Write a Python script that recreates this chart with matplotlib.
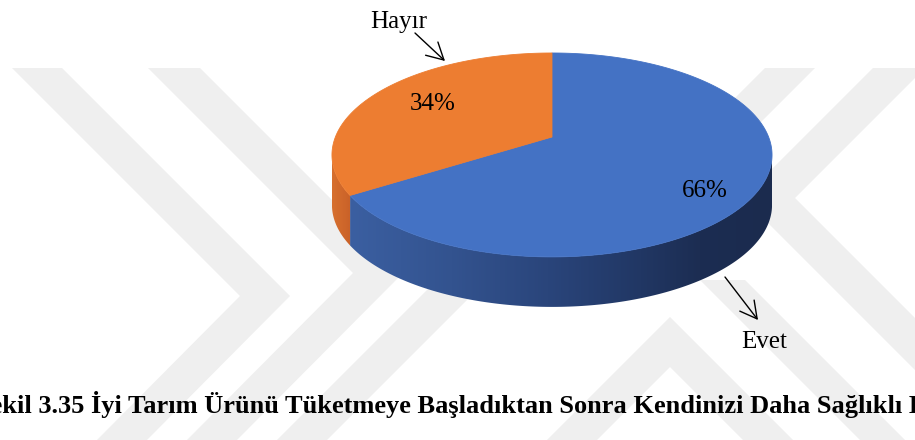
import numpy as np
import matplotlib
matplotlib.use("Agg")
import matplotlib.pyplot as plt
from matplotlib.patches import Polygon
from matplotlib.colors import LinearSegmentedColormap

# ---- data ----
categories = ["Evet", "Hayır"]
values = [66, 34]
top_colors = ["#4472C4", "#ED7D31"]
caption = ("Şekil 3.35 İyi Tarım Ürünü Tüketmeye Başladıktan Sonra "
           "Kendinizi Daha Sağlıklı Hissediyor musunuz?")

total = float(sum(values))
shares = [v / total for v in values]
percent_labels = [f"{s * 100:.0f}%" for s in shares]

# ---- canvas in pixel units ----
W, H = 915, 440
fig = plt.figure(figsize=(W / 100, H / 100), dpi=100)
fig.patch.set_facecolor("white")
ax = fig.add_axes([0, 0, 1, 1])
ax.set_xlim(0, W)
ax.set_ylim(H, 0)
ax.axis("off")

SERIF = ["Liberation Serif", "DejaVu Serif"]

# ---- faint chevron watermark in the background ----
watermark = [
    [(12, 68), (62, 68), (290, 296), (147, 440), (97, 440), (240, 296)],
    [(148, 68), (200, 68), (404, 272), (237, 440), (187, 440), (353, 273)],
    [(467, 250), (517, 250), (327, 440), (277, 440)],
    [(547, 440), (670, 317), (793, 440), (743, 440), (670, 367), (597, 440)],
    [(700, 280), (745, 280), (905, 440), (860, 440)],
    [(873, 68), (925, 68), (795, 198), (925, 328), (925, 380), (743, 198)],
    [(765, 68), (815, 68), (660, 223), (610, 223)],
]
for pts in watermark:
    ax.add_patch(Polygon(pts, closed=True, facecolor="#efefef",
                         edgecolor="none", zorder=0))

# ---- 3D pie geometry (perspective-projected disc) ----
CX, CY = 552.0, 137.0      # projected centre of the disc
A, B = 216.6, 98.8         # horizontal / vertical scale
K = 0.176                  # perspective strength
DEPTH = 50.0               # thickness of the disc


def rim(theta_deg):
    t = np.radians(theta_deg)
    X, Z = np.cos(t), np.sin(t)
    w = 1.0 + K * Z
    return CX + A * X / w, CY - B * Z / w


# slice angle ranges, clockwise from 12 o'clock
bounds = []
start = 90.0
for s in shares:
    end = start - 360.0 * s
    bounds.append((end, start))
    start = end

# visible front arc: between leftmost and rightmost rim points
tt = np.linspace(-200, 20, 4000)
xx, _ = rim(tt)
t_left, t_right = tt[np.argmin(xx)], tt[np.argmax(xx)]

side_cmaps = [
    LinearSegmentedColormap.from_list(
        "side_blue",
        [(0.0, "#3b5fa1"), (0.24, "#33538f"), (0.47, "#2a457b"),
         (0.69, "#213764"), (0.83, "#1c2d52"), (1.0, "#1b2b4e")]),
    LinearSegmentedColormap.from_list(
        "side_orange", [(0.0, "#d7702f"), (1.0, "#c96128")]),
]

# side walls
for (lo, hi), cmap in zip(bounds, side_cmaps):
    a0, a1 = max(lo, t_left), min(hi, t_right)
    if a0 >= a1:
        continue
    ts = np.linspace(a0, a1, 300)
    x, y = rim(ts)
    poly_pts = np.vstack([np.column_stack([x, y]),
                          np.column_stack([x[::-1], y[::-1] + DEPTH])])
    patch = Polygon(poly_pts, closed=True, facecolor="none",
                    edgecolor="none", zorder=2)
    ax.add_patch(patch)
    x0, x1 = poly_pts[:, 0].min(), poly_pts[:, 0].max()
    y0, y1 = poly_pts[:, 1].min(), poly_pts[:, 1].max()
    if cmap.name == "side_blue":
        x0g, x1g = 350.0, 772.0
    else:
        x0g, x1g = x0, x1
    grad = np.linspace(0, 1, 512)[None, :]
    im = ax.imshow(grad, cmap=cmap, extent=(x0g, x1g, y1 + 1, y0 - 1),
                   aspect="auto", interpolation="bilinear", zorder=2)
    im.set_clip_path(patch)

# top faces
for (lo, hi), col in zip(bounds, top_colors):
    ts = np.linspace(hi, lo, 400)
    x, y = rim(ts)
    pts = np.vstack([[CX, CY], np.column_stack([x, y])])
    ax.add_patch(Polygon(pts, closed=True, facecolor=col, edgecolor=col,
                         linewidth=0.6, zorder=3))

ax.set_xlim(0, W)
ax.set_ylim(H, 0)

# ---- percentage labels on the slices ----
pct_pos = [(705, 197), (433, 110)]
for txt, (px, py) in zip(percent_labels, pct_pos):
    ax.text(px, py, txt, ha="center", va="baseline", fontsize=18,
            family=SERIF, color="black", zorder=5)

# ---- category labels with arrows ----
name_pos = [(764, 348), (399, 28)]
arrow_from = [(725, 277), (415, 33)]
arrow_to = [(758, 320), (445, 61)]
for name, (nx, ny), p0, p1 in zip(categories, name_pos, arrow_from, arrow_to):
    ax.text(nx, ny, name, ha="center", va="baseline", fontsize=18,
            family=SERIF, color="black", zorder=5)
    ax.annotate("", xy=p1, xytext=p0, zorder=5,
                arrowprops=dict(arrowstyle="->,head_length=1.2,head_width=0.65",
                                lw=1.0, color="black", shrinkA=0, shrinkB=0,
                                mutation_scale=10))

# ---- figure caption ----
ax.text(-24, 413, caption, ha="left", va="baseline", fontsize=19,
        fontweight="bold", family=SERIF, color="black", zorder=5)

fig.savefig("out.png", dpi=100, facecolor="white")
